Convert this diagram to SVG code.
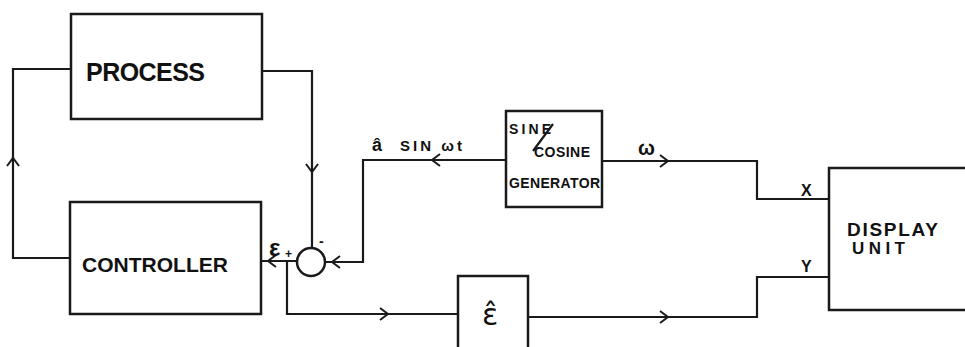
<svg xmlns="http://www.w3.org/2000/svg" xmlns:xlink="http://www.w3.org/1999/xlink" width="965" height="347" viewBox="0 0 965 347">
<style>
.box{fill:none;stroke:#1a1a1a;stroke-width:2.5}
.ln{fill:none;stroke:#1a1a1a;stroke-width:2.2;stroke-linejoin:miter}
.chev{fill:none;stroke:#1a1a1a;stroke-width:2}
.t{font-family:"Liberation Sans",Arial,sans-serif;font-weight:bold;fill:#111}
</style>
<defs>
<path id="chev" class="chev" d="M-8,-6 L0,0 L-8,6"/>
</defs>
<rect width="965" height="347" fill="#fff"/>
<g id="process">
<rect class="box" x="71" y="14" width="191" height="105"/>
<text class="t" x="86" y="81" font-size="25" textLength="119" lengthAdjust="spacing">PROCESS</text>
</g>
<g id="controller">
<rect class="box" x="70" y="202" width="191" height="112"/>
<text class="t" x="82" y="272" font-size="21" textLength="146" lengthAdjust="spacing">CONTROLLER</text>
</g>
<g id="summer">
<circle class="box" cx="311" cy="262" r="14"/>
<text class="t" x="319" y="246" font-size="14">-</text>
<text class="t" x="285" y="258" font-size="12">+</text>
</g>
<g id="generator">
<rect class="box" x="506" y="111" width="96" height="96"/>
<text class="t" x="509" y="134" font-size="14" textLength="42" lengthAdjust="spacing">SINE</text>
<line class="ln" x1="533" y1="151" x2="553" y2="124" stroke-width="2"/>
<text class="t" x="534" y="157" font-size="14" textLength="56" lengthAdjust="spacing">COSINE</text>
<text class="t" x="509" y="188" font-size="14" textLength="91" lengthAdjust="spacing">GENERATOR</text>
</g>
<g id="estimate">
<path class="box" d="M458,350 V276 H528 V350"/>
<text x="482" y="325" font-size="30" font-family="DejaVu Sans,sans-serif" fill="#111">ε̂</text>
</g>
<g id="display">
<path class="box" d="M968,168 H829 V310 H968"/>
<text class="t" x="847" y="236" font-size="19" textLength="91" lengthAdjust="spacing">DISPLAY</text>
<text class="t" x="852" y="254" font-size="17" textLength="53" lengthAdjust="spacing">UNIT</text>
</g>
<g id="connectors">
<polyline class="ln" points="71,69 13,69 13,258 70,258"/>
<polyline class="ln" points="262,71 312,71 312,248"/>
<line class="ln" x1="297" y1="261" x2="261" y2="261"/>
<polyline class="ln" points="287,261 287,314 458,314"/>
<polyline class="ln" points="506,160 363,160 363,262 325,262"/>
<polyline class="ln" points="602,161 757,161 757,199 829,199"/>
<polyline class="ln" points="829,277 757,277 757,317 528,317"/>
<use xlink:href="#chev" transform="translate(13,158) rotate(-90)"/>
<use xlink:href="#chev" transform="translate(312,172) rotate(90)"/>
<use xlink:href="#chev" transform="translate(268,261) rotate(180)"/>
<use xlink:href="#chev" transform="translate(332,262) rotate(180)"/>
<use xlink:href="#chev" transform="translate(432,160) rotate(180)"/>
<use xlink:href="#chev" transform="translate(668,161)"/>
<use xlink:href="#chev" transform="translate(388,314)"/>
<use xlink:href="#chev" transform="translate(668,317)"/>
<text class="t" x="269" y="256" font-size="24" font-weight="normal">ε</text>
<text class="t" x="372" y="151" font-size="18">â</text>
<text class="t" x="400" y="151" font-size="15" textLength="62" lengthAdjust="spacing">SIN ωt</text>
<text class="t" x="638" y="155" font-size="20">ω</text>
<text class="t" x="801" y="196" font-size="16">X</text>
<text class="t" x="801" y="272" font-size="16">Y</text>
</g>
</svg>
